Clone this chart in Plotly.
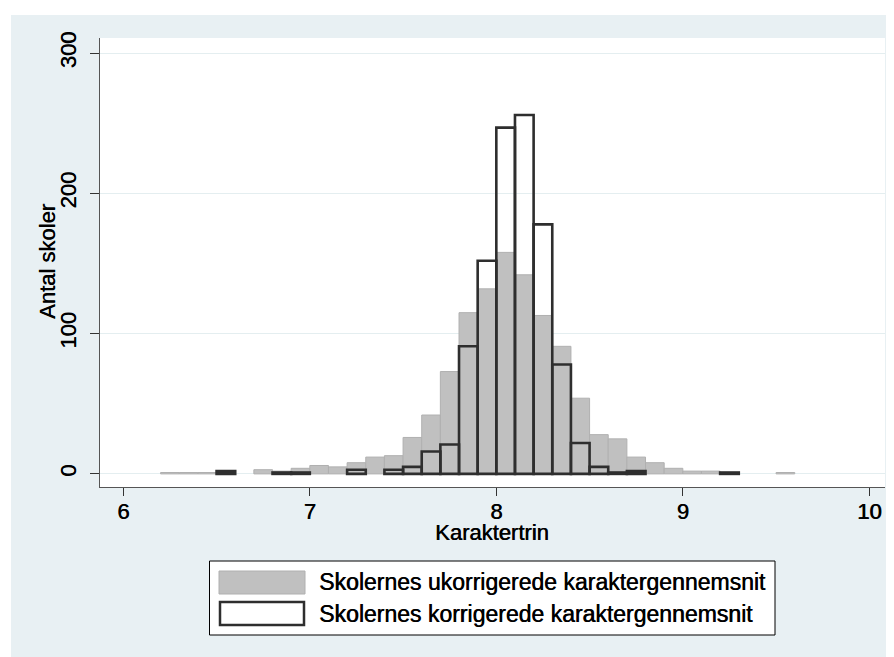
import plotly.graph_objects as go

# ---- data ----
bin_left = [6.2, 6.3, 6.4, 6.5, 6.6, 6.7, 6.8, 6.9, 7.0, 7.1, 7.2, 7.3, 7.4, 7.5, 7.6, 7.7,
            7.8, 7.9, 8.0, 8.1, 8.2, 8.3, 8.4, 8.5, 8.6, 8.7, 8.8, 8.9, 9.0, 9.1, 9.2, 9.3, 9.4, 9.5]
uncorrected = [1, 1, 1, 1, 0, 3, 2, 4, 6, 5, 8, 12, 13, 26, 42, 73,
               115, 132, 158, 142, 113, 91, 54, 28, 25, 12, 8, 4, 2, 2, 1, 0, 0, 1]
corrected = [0, 0, 0, 2, 0, 0, 1, 1, 0, 0, 3, 0, 3, 5, 16, 21,
             91, 152, 247, 256, 178, 78, 22, 5, 1, 2, 0, 0, 0, 0, 1, 0, 0, 0]
x_ticks = [6, 7, 8, 9, 10]
y_ticks = [0, 100, 200, 300]
series_names = ["Skolernes ukorrigerede karaktergennemsnit",
                "Skolernes korrigerede karaktergennemsnit"]
x_title = "Karaktertrin"
y_title = "Antal skoler"

# ---- geometry: the page adds an 8px body margin, so the figure is 8px smaller ----
OFF = 8
W, H = 894 - OFF, 657 - OFF
L, R, T, B = 100 - OFF, 9, 38 - OFF, 170
PW, PH = W - L - R, H - T - B


def px(x):  # page pixel x -> paper
    return (x - OFF - L) / PW


def py(y):  # page pixel y -> paper
    return (H - B - (y - OFF)) / PH


FONT = "Liberation Sans, Arial, Helvetica, sans-serif"
FS = 22
SHADOW = "0.55px 0 0 black"
BG = "#e8f0f3"
GRAY = "#c0c0c0"
GRAY_EDGE = "#b0b0b0"
DARK = "#2e2e2e"


def tfont(size=FS):
    return dict(size=size, family=FONT, color="black", shadow=SHADOW)


def nz(vals):
    return [v if v else None for v in vals]


fig = go.Figure()
fig.add_bar(x=bin_left, y=nz(uncorrected), width=0.1, offset=0, name=series_names[0],
            marker=dict(color=GRAY, line=dict(color=GRAY_EDGE, width=1)))
fig.add_bar(x=bin_left, y=nz(corrected), width=0.1, offset=0, name=series_names[1],
            marker=dict(color="rgba(0,0,0,0)", line=dict(color=DARK, width=2.6)))

fig.update_layout(
    width=W, height=H,
    margin=dict(l=L, r=R, t=T, b=B),
    barmode="overlay",
    showlegend=False,
    paper_bgcolor=BG,
    plot_bgcolor="white",
    font=dict(family=FONT, color="black", size=FS),
)

fig.update_xaxes(
    range=[5.875, 10.084], tickvals=x_ticks, ticks="outside", ticklen=8,
    tickcolor="#333", tickwidth=1, showline=True, linecolor="#555", linewidth=1,
    showgrid=False, zeroline=False, ticklabelstandoff=-3,
    tickfont=tfont(),
)
fig.update_yaxes(
    range=[-9.34, 310.9], tickvals=y_ticks, tickangle=-90, ticks="outside", ticklen=9,
    tickcolor="#333", tickwidth=1, showline=True, linecolor="#555", linewidth=1,
    showgrid=True, gridcolor="#e4eef0", gridwidth=1, zeroline=False, ticklabelstandoff=5,
    tickfont=tfont(),
)

shapes = []
# white strips outside the light panel
shapes.append(dict(type="rect", xref="paper", yref="paper", layer="below",
                   x0=px(0), x1=px(900), y0=py(0), y1=py(15), fillcolor="white", line_width=0))
shapes.append(dict(type="rect", xref="paper", yref="paper", layer="below",
                   x0=px(0), x1=px(11), y0=py(0), y1=py(700), fillcolor="white", line_width=0))
# legend box and swatches
shapes.append(dict(type="rect", xref="paper", yref="paper",
                   x0=px(209.5), x1=px(775), y0=py(561), y1=py(635),
                   fillcolor="white", line=dict(color="black", width=1)))
shapes.append(dict(type="rect", xref="paper", yref="paper",
                   x0=px(219), x1=px(305), y0=py(571), y1=py(594),
                   fillcolor=GRAY, line=dict(color=GRAY_EDGE, width=1)))
shapes.append(dict(type="rect", xref="paper", yref="paper",
                   x0=px(220), x1=px(304), y0=py(602), y1=py(625),
                   fillcolor="white", line=dict(color=DARK, width=2.5)))
fig.update_layout(shapes=shapes)

for name, yc in zip(series_names, [582, 613.5]):
    fig.add_annotation(xref="paper", yref="paper", x=px(317), y=py(yc),
                       xanchor="left", yanchor="middle", showarrow=False,
                       text=name, font=tfont(23))

# axis titles
fig.add_annotation(xref="paper", yref="paper", x=px(492), y=py(532),
                   xanchor="center", yanchor="middle", showarrow=False,
                   text=x_title, font=tfont())
fig.add_annotation(xref="paper", yref="paper", x=px(47), y=py(262),
                   xanchor="center", yanchor="middle", showarrow=False, textangle=-90,
                   text=y_title, font=tfont())

fig.write_html("out.html")
